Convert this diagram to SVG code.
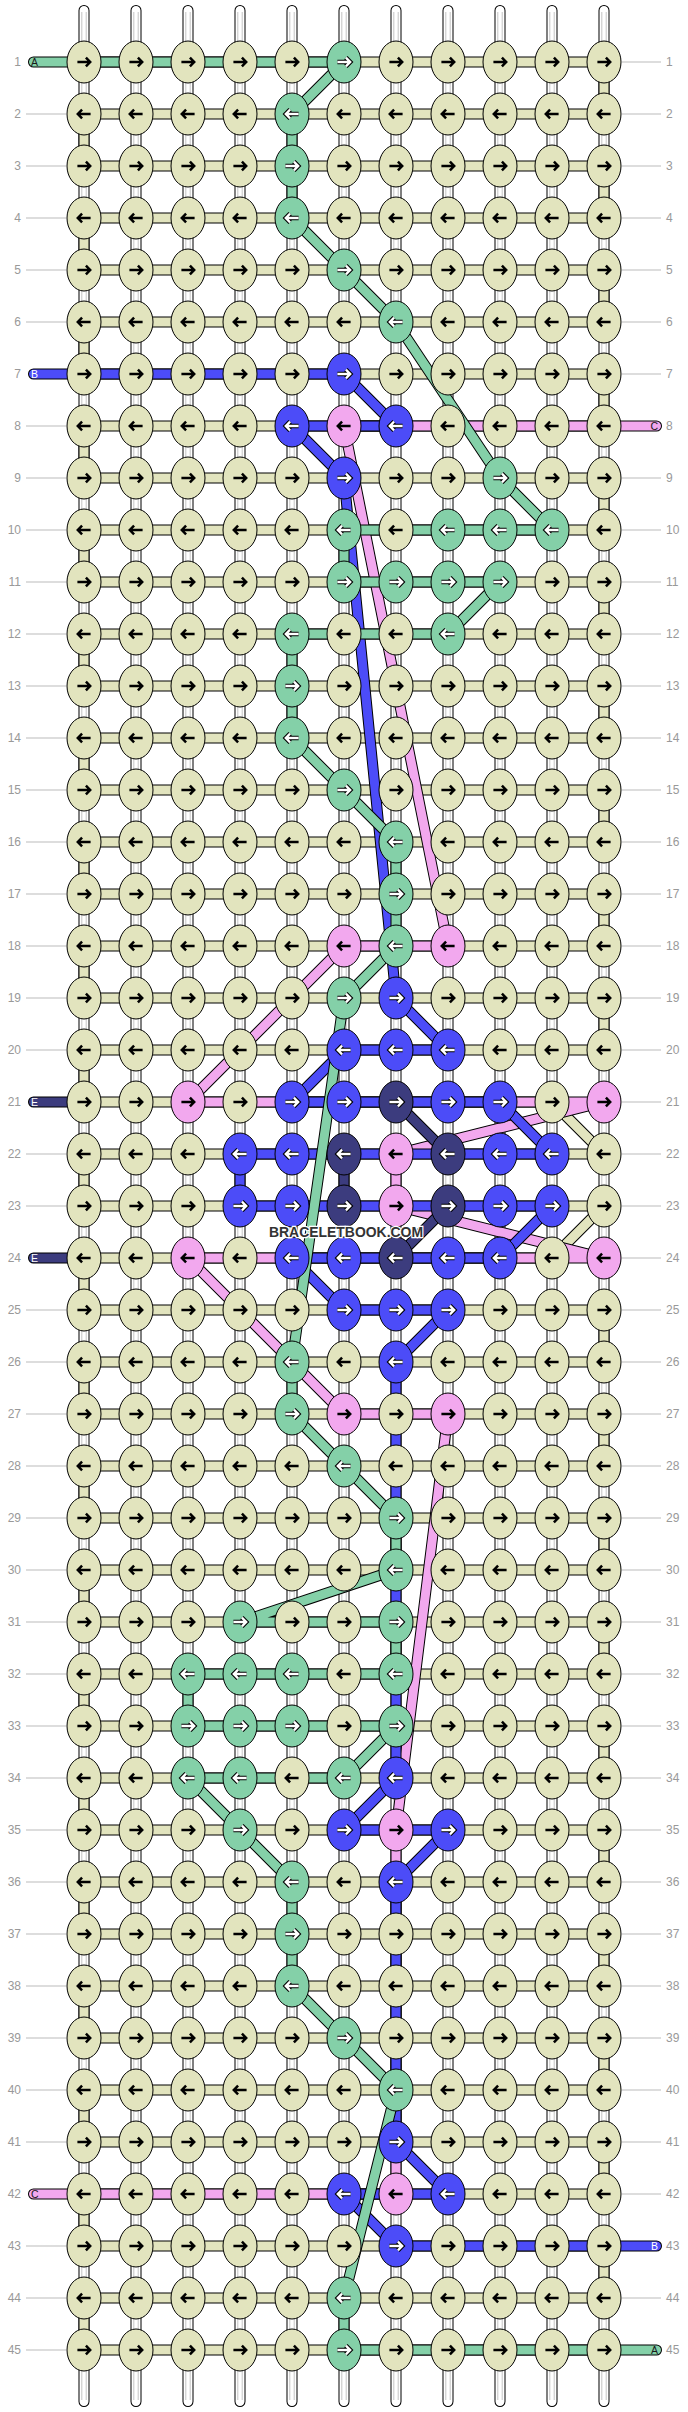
<svg xmlns="http://www.w3.org/2000/svg" xmlns:xlink="http://www.w3.org/1999/xlink" width="688" height="2412" viewBox="0 0 688 2412">
<style>
.o{fill:none;stroke:#000;stroke-width:11;stroke-linecap:round;stroke-linejoin:round}
.f{fill:none;stroke-width:9;stroke-linecap:round;stroke-linejoin:round}
.w{stroke:#fff}
.tn{stroke:#e2e4be}
.pk{stroke:#f2a8ee}
.bl{stroke:#4c4cf8}
.gr{stroke:#84d0a8}
.nv{stroke:#3c3c7e}
.gl{fill:none;stroke:#c4c4c4;stroke-width:1}
.ll{fill:none;stroke:#bbb;stroke-width:1}
.lab{font-family:"Liberation Sans",Arial,sans-serif;font-size:12px;fill:#999}
.ak{fill:none;stroke:#000;stroke-width:2.5}
.ao{fill:none;stroke:#000;stroke-width:4.6}
.aw{fill:none;stroke:#fff;stroke-width:2.4}
.st{font-family:"Liberation Sans",Arial,sans-serif;font-size:10.5px}
.wm{font-family:"Liberation Sans Narrow","Liberation Sans",Arial,sans-serif;font-weight:bold;font-size:15px;fill:#333;stroke:#fff;stroke-width:2.5;paint-order:stroke}
</style>
<defs>
<path id="pW" d="M84,10.5V2401.5M136,10.5V2401.5M188,10.5V2401.5M240,10.5V2401.5M292,10.5V2401.5M344,10.5V2401.5M396,10.5V2401.5M448,10.5V2401.5M500,10.5V2401.5M552,10.5V2401.5M604,10.5V2401.5"/>
<path id="pT" d="M84,62H604V114H84V166H604V218H84V270H604V322H84V374H604V426H84V478H604V530H84V582H604V634H84V686H604V738H84V790H604V842H84V894H604V946H84V998H604V1050H84V1102H552L604,1154H84V1206H604L552,1258H84V1310H604V1362H84V1414H604V1466H84V1518H604V1570H84V1622H604V1674H84V1726H604V1778H84V1830H604V1882H84V1934H604V1986H84V2038H604V2090H84V2142H604V2194H84V2246H604V2298H84V2350H604"/>
<path id="pP" d="M656.5,426H344L448,946H344L188,1102H604L396,1154V1206L604,1258H188L344,1414H448L396,1830V2194H33.5"/>
<path id="pB" d="M33.5,374H344L396,426H292L344,478L396,998L448,1050H344L292,1102H500L552,1154H240V1206H552L500,1258H292L344,1310H448L396,1362V1778L344,1830H448L396,1882V2142L448,2194H344L396,2246H656.5"/>
<path id="pG" d="M33.5,62H344L292,114V218L344,270L396,322L500,478L552,530H344V582H500L448,634H292V738L344,790L396,842V946L344,998L292,1362V1414L344,1466L396,1518V1570L240,1622H396V1674H188V1726H396L344,1778H188L240,1830L292,1882V1986L344,2038L396,2090L344,2298V2350H656.5"/>
<path id="pN" d="M33.5,1102H84M396,1102L448,1154M344,1154V1206M448,1206L396,1258M33.5,1258H84"/>
<path id="aR" d="M-6.6,0H5.8M1.9,-4.4L6.2,0L1.9,4.4"/>
<path id="aL" d="M6.6,0H-5.8M-1.9,-4.4L-6.2,0L-1.9,4.4"/>
<ellipse id="e" rx="17" ry="21" stroke="#000" stroke-width="1"/>
<g id="tR"><use href="#e" fill="#e2e4be"/><use href="#aR" class="ak"/></g>
<g id="tL"><use href="#e" fill="#e2e4be"/><use href="#aL" class="ak"/></g>
<g id="pR"><use href="#e" fill="#f2a8ee"/><use href="#aR" class="ak"/></g>
<g id="pL"><use href="#e" fill="#f2a8ee"/><use href="#aL" class="ak"/></g>
<g id="gR"><use href="#e" fill="#84d0a8"/><use href="#aR" class="ao"/><use href="#aR" class="aw"/></g>
<g id="gL"><use href="#e" fill="#84d0a8"/><use href="#aL" class="ao"/><use href="#aL" class="aw"/></g>
<g id="bR"><use href="#e" fill="#4c4cf8"/><use href="#aR" class="ao"/><use href="#aR" class="aw"/></g>
<g id="bL"><use href="#e" fill="#4c4cf8"/><use href="#aL" class="ao"/><use href="#aL" class="aw"/></g>
<g id="nR"><use href="#e" fill="#3c3c7e"/><use href="#aR" class="ao"/><use href="#aR" class="aw"/></g>
<g id="nL"><use href="#e" fill="#3c3c7e"/><use href="#aL" class="ao"/><use href="#aL" class="aw"/></g>
</defs>
<rect width="688" height="2412" fill="#fff"/>
<g id="labels">
<path class="ll" d="M26,114H66M26,166H66M26,218H66M26,270H66M26,322H66M26,426H66M26,478H66M26,530H66M26,582H66M26,634H66M26,686H66M26,738H66M26,790H66M26,842H66M26,894H66M26,946H66M26,998H66M26,1050H66M26,1154H66M26,1206H66M26,1310H66M26,1362H66M26,1414H66M26,1466H66M26,1518H66M26,1570H66M26,1622H66M26,1674H66M26,1726H66M26,1778H66M26,1830H66M26,1882H66M26,1934H66M26,1986H66M26,2038H66M26,2090H66M26,2142H66M26,2246H66M26,2298H66M26,2350H66M622,62H661M622,114H661M622,166H661M622,218H661M622,270H661M622,322H661M622,374H661M622,478H661M622,530H661M622,582H661M622,634H661M622,686H661M622,738H661M622,790H661M622,842H661M622,894H661M622,946H661M622,998H661M622,1050H661M622,1102H661M622,1154H661M622,1206H661M622,1258H661M622,1310H661M622,1362H661M622,1414H661M622,1466H661M622,1518H661M622,1570H661M622,1622H661M622,1674H661M622,1726H661M622,1778H661M622,1830H661M622,1882H661M622,1934H661M622,1986H661M622,2038H661M622,2090H661M622,2142H661M622,2194H661M622,2298H661"/>
<g class="lab" text-anchor="end">
<text x="21" y="66">1</text><text x="21" y="118">2</text><text x="21" y="170">3</text><text x="21" y="222">4</text><text x="21" y="274">5</text><text x="21" y="326">6</text><text x="21" y="378">7</text><text x="21" y="430">8</text><text x="21" y="482">9</text><text x="21" y="534">10</text><text x="21" y="586">11</text><text x="21" y="638">12</text><text x="21" y="690">13</text><text x="21" y="742">14</text><text x="21" y="794">15</text><text x="21" y="846">16</text><text x="21" y="898">17</text><text x="21" y="950">18</text><text x="21" y="1002">19</text><text x="21" y="1054">20</text><text x="21" y="1106">21</text><text x="21" y="1158">22</text><text x="21" y="1210">23</text><text x="21" y="1262">24</text><text x="21" y="1314">25</text><text x="21" y="1366">26</text><text x="21" y="1418">27</text><text x="21" y="1470">28</text><text x="21" y="1522">29</text><text x="21" y="1574">30</text><text x="21" y="1626">31</text><text x="21" y="1678">32</text><text x="21" y="1730">33</text><text x="21" y="1782">34</text><text x="21" y="1834">35</text><text x="21" y="1886">36</text><text x="21" y="1938">37</text><text x="21" y="1990">38</text><text x="21" y="2042">39</text><text x="21" y="2094">40</text><text x="21" y="2146">41</text><text x="21" y="2198">42</text><text x="21" y="2250">43</text><text x="21" y="2302">44</text><text x="21" y="2354">45</text>
</g>
<g class="lab">
<text x="666" y="66">1</text><text x="666" y="118">2</text><text x="666" y="170">3</text><text x="666" y="222">4</text><text x="666" y="274">5</text><text x="666" y="326">6</text><text x="666" y="378">7</text><text x="666" y="430">8</text><text x="666" y="482">9</text><text x="666" y="534">10</text><text x="666" y="586">11</text><text x="666" y="638">12</text><text x="666" y="690">13</text><text x="666" y="742">14</text><text x="666" y="794">15</text><text x="666" y="846">16</text><text x="666" y="898">17</text><text x="666" y="950">18</text><text x="666" y="1002">19</text><text x="666" y="1054">20</text><text x="666" y="1106">21</text><text x="666" y="1158">22</text><text x="666" y="1210">23</text><text x="666" y="1262">24</text><text x="666" y="1314">25</text><text x="666" y="1366">26</text><text x="666" y="1418">27</text><text x="666" y="1470">28</text><text x="666" y="1522">29</text><text x="666" y="1574">30</text><text x="666" y="1626">31</text><text x="666" y="1678">32</text><text x="666" y="1730">33</text><text x="666" y="1782">34</text><text x="666" y="1834">35</text><text x="666" y="1886">36</text><text x="666" y="1938">37</text><text x="666" y="1990">38</text><text x="666" y="2042">39</text><text x="666" y="2094">40</text><text x="666" y="2146">41</text><text x="666" y="2198">42</text><text x="666" y="2250">43</text><text x="666" y="2302">44</text><text x="666" y="2354">45</text>
</g>
</g>
<g id="connectors">
<use href="#pW" class="o"/><use href="#pW" class="f w"/>
<path class="gl" d="M81.8,12V2400M86.2,12V2400M133.8,12V2400M138.2,12V2400M185.8,12V2400M190.2,12V2400M237.8,12V2400M242.2,12V2400M289.8,12V2400M294.2,12V2400M341.8,12V2400M346.2,12V2400M393.8,12V2400M398.2,12V2400M445.8,12V2400M450.2,12V2400M497.8,12V2400M502.2,12V2400M549.8,12V2400M554.2,12V2400M601.8,12V2400M606.2,12V2400"/>
<use href="#pT" class="o"/><use href="#pT" class="f tn"/>
<use href="#pP" class="o"/><use href="#pP" class="f pk"/>
<use href="#pB" class="o"/><use href="#pB" class="f bl"/>
<use href="#pG" class="o"/><use href="#pG" class="f gr"/>
<use href="#pN" class="o"/><use href="#pN" class="f nv"/>
</g>
<g id="stub-letters" class="st">
<text x="31" y="66" fill="#1a1a1a">A</text>
<text x="31" y="378" fill="#fff">B</text>
<text x="658" y="430" fill="#1a1a1a" text-anchor="end">C</text>
<text x="31" y="1106" fill="#fff">E</text>
<text x="31" y="1262" fill="#fff">E</text>
<text x="31" y="2198" fill="#1a1a1a">C</text>
<text x="658" y="2250" fill="#fff" text-anchor="end">B</text>
<text x="658" y="2354" fill="#1a1a1a" text-anchor="end">A</text>
</g>
<g id="knots">
<g id="row1" transform="translate(0,62)"><use href="#tR" x="84"/><use href="#tR" x="136"/><use href="#tR" x="188"/><use href="#tR" x="240"/><use href="#tR" x="292"/><use href="#gR" x="344"/><use href="#tR" x="396"/><use href="#tR" x="448"/><use href="#tR" x="500"/><use href="#tR" x="552"/><use href="#tR" x="604"/></g>
<g id="row2" transform="translate(0,114)"><use href="#tL" x="84"/><use href="#tL" x="136"/><use href="#tL" x="188"/><use href="#tL" x="240"/><use href="#gL" x="292"/><use href="#tL" x="344"/><use href="#tL" x="396"/><use href="#tL" x="448"/><use href="#tL" x="500"/><use href="#tL" x="552"/><use href="#tL" x="604"/></g>
<g id="row3" transform="translate(0,166)"><use href="#tR" x="84"/><use href="#tR" x="136"/><use href="#tR" x="188"/><use href="#tR" x="240"/><use href="#gR" x="292"/><use href="#tR" x="344"/><use href="#tR" x="396"/><use href="#tR" x="448"/><use href="#tR" x="500"/><use href="#tR" x="552"/><use href="#tR" x="604"/></g>
<g id="row4" transform="translate(0,218)"><use href="#tL" x="84"/><use href="#tL" x="136"/><use href="#tL" x="188"/><use href="#tL" x="240"/><use href="#gL" x="292"/><use href="#tL" x="344"/><use href="#tL" x="396"/><use href="#tL" x="448"/><use href="#tL" x="500"/><use href="#tL" x="552"/><use href="#tL" x="604"/></g>
<g id="row5" transform="translate(0,270)"><use href="#tR" x="84"/><use href="#tR" x="136"/><use href="#tR" x="188"/><use href="#tR" x="240"/><use href="#tR" x="292"/><use href="#gR" x="344"/><use href="#tR" x="396"/><use href="#tR" x="448"/><use href="#tR" x="500"/><use href="#tR" x="552"/><use href="#tR" x="604"/></g>
<g id="row6" transform="translate(0,322)"><use href="#tL" x="84"/><use href="#tL" x="136"/><use href="#tL" x="188"/><use href="#tL" x="240"/><use href="#tL" x="292"/><use href="#tL" x="344"/><use href="#gL" x="396"/><use href="#tL" x="448"/><use href="#tL" x="500"/><use href="#tL" x="552"/><use href="#tL" x="604"/></g>
<g id="row7" transform="translate(0,374)"><use href="#tR" x="84"/><use href="#tR" x="136"/><use href="#tR" x="188"/><use href="#tR" x="240"/><use href="#tR" x="292"/><use href="#bR" x="344"/><use href="#tR" x="396"/><use href="#tR" x="448"/><use href="#tR" x="500"/><use href="#tR" x="552"/><use href="#tR" x="604"/></g>
<g id="row8" transform="translate(0,426)"><use href="#tL" x="84"/><use href="#tL" x="136"/><use href="#tL" x="188"/><use href="#tL" x="240"/><use href="#bL" x="292"/><use href="#pL" x="344"/><use href="#bL" x="396"/><use href="#tL" x="448"/><use href="#tL" x="500"/><use href="#tL" x="552"/><use href="#tL" x="604"/></g>
<g id="row9" transform="translate(0,478)"><use href="#tR" x="84"/><use href="#tR" x="136"/><use href="#tR" x="188"/><use href="#tR" x="240"/><use href="#tR" x="292"/><use href="#bR" x="344"/><use href="#tR" x="396"/><use href="#tR" x="448"/><use href="#gR" x="500"/><use href="#tR" x="552"/><use href="#tR" x="604"/></g>
<g id="row10" transform="translate(0,530)"><use href="#tL" x="84"/><use href="#tL" x="136"/><use href="#tL" x="188"/><use href="#tL" x="240"/><use href="#tL" x="292"/><use href="#gL" x="344"/><use href="#tL" x="396"/><use href="#gL" x="448"/><use href="#gL" x="500"/><use href="#gL" x="552"/><use href="#tL" x="604"/></g>
<g id="row11" transform="translate(0,582)"><use href="#tR" x="84"/><use href="#tR" x="136"/><use href="#tR" x="188"/><use href="#tR" x="240"/><use href="#tR" x="292"/><use href="#gR" x="344"/><use href="#gR" x="396"/><use href="#gR" x="448"/><use href="#gR" x="500"/><use href="#tR" x="552"/><use href="#tR" x="604"/></g>
<g id="row12" transform="translate(0,634)"><use href="#tL" x="84"/><use href="#tL" x="136"/><use href="#tL" x="188"/><use href="#tL" x="240"/><use href="#gL" x="292"/><use href="#tL" x="344"/><use href="#tL" x="396"/><use href="#gL" x="448"/><use href="#tL" x="500"/><use href="#tL" x="552"/><use href="#tL" x="604"/></g>
<g id="row13" transform="translate(0,686)"><use href="#tR" x="84"/><use href="#tR" x="136"/><use href="#tR" x="188"/><use href="#tR" x="240"/><use href="#gR" x="292"/><use href="#tR" x="344"/><use href="#tR" x="396"/><use href="#tR" x="448"/><use href="#tR" x="500"/><use href="#tR" x="552"/><use href="#tR" x="604"/></g>
<g id="row14" transform="translate(0,738)"><use href="#tL" x="84"/><use href="#tL" x="136"/><use href="#tL" x="188"/><use href="#tL" x="240"/><use href="#gL" x="292"/><use href="#tL" x="344"/><use href="#tL" x="396"/><use href="#tL" x="448"/><use href="#tL" x="500"/><use href="#tL" x="552"/><use href="#tL" x="604"/></g>
<g id="row15" transform="translate(0,790)"><use href="#tR" x="84"/><use href="#tR" x="136"/><use href="#tR" x="188"/><use href="#tR" x="240"/><use href="#tR" x="292"/><use href="#gR" x="344"/><use href="#tR" x="396"/><use href="#tR" x="448"/><use href="#tR" x="500"/><use href="#tR" x="552"/><use href="#tR" x="604"/></g>
<g id="row16" transform="translate(0,842)"><use href="#tL" x="84"/><use href="#tL" x="136"/><use href="#tL" x="188"/><use href="#tL" x="240"/><use href="#tL" x="292"/><use href="#tL" x="344"/><use href="#gL" x="396"/><use href="#tL" x="448"/><use href="#tL" x="500"/><use href="#tL" x="552"/><use href="#tL" x="604"/></g>
<g id="row17" transform="translate(0,894)"><use href="#tR" x="84"/><use href="#tR" x="136"/><use href="#tR" x="188"/><use href="#tR" x="240"/><use href="#tR" x="292"/><use href="#tR" x="344"/><use href="#gR" x="396"/><use href="#tR" x="448"/><use href="#tR" x="500"/><use href="#tR" x="552"/><use href="#tR" x="604"/></g>
<g id="row18" transform="translate(0,946)"><use href="#tL" x="84"/><use href="#tL" x="136"/><use href="#tL" x="188"/><use href="#tL" x="240"/><use href="#tL" x="292"/><use href="#pL" x="344"/><use href="#gL" x="396"/><use href="#pL" x="448"/><use href="#tL" x="500"/><use href="#tL" x="552"/><use href="#tL" x="604"/></g>
<g id="row19" transform="translate(0,998)"><use href="#tR" x="84"/><use href="#tR" x="136"/><use href="#tR" x="188"/><use href="#tR" x="240"/><use href="#tR" x="292"/><use href="#gR" x="344"/><use href="#bR" x="396"/><use href="#tR" x="448"/><use href="#tR" x="500"/><use href="#tR" x="552"/><use href="#tR" x="604"/></g>
<g id="row20" transform="translate(0,1050)"><use href="#tL" x="84"/><use href="#tL" x="136"/><use href="#tL" x="188"/><use href="#tL" x="240"/><use href="#tL" x="292"/><use href="#bL" x="344"/><use href="#bL" x="396"/><use href="#bL" x="448"/><use href="#tL" x="500"/><use href="#tL" x="552"/><use href="#tL" x="604"/></g>
<g id="row21" transform="translate(0,1102)"><use href="#tR" x="84"/><use href="#tR" x="136"/><use href="#pR" x="188"/><use href="#tR" x="240"/><use href="#bR" x="292"/><use href="#bR" x="344"/><use href="#nR" x="396"/><use href="#bR" x="448"/><use href="#bR" x="500"/><use href="#tR" x="552"/><use href="#pR" x="604"/></g>
<g id="row22" transform="translate(0,1154)"><use href="#tL" x="84"/><use href="#tL" x="136"/><use href="#tL" x="188"/><use href="#bL" x="240"/><use href="#bL" x="292"/><use href="#nL" x="344"/><use href="#pL" x="396"/><use href="#nL" x="448"/><use href="#bL" x="500"/><use href="#bL" x="552"/><use href="#tL" x="604"/></g>
<g id="row23" transform="translate(0,1206)"><use href="#tR" x="84"/><use href="#tR" x="136"/><use href="#tR" x="188"/><use href="#bR" x="240"/><use href="#bR" x="292"/><use href="#nR" x="344"/><use href="#pR" x="396"/><use href="#nR" x="448"/><use href="#bR" x="500"/><use href="#bR" x="552"/><use href="#tR" x="604"/></g>
<g id="row24" transform="translate(0,1258)"><use href="#tL" x="84"/><use href="#tL" x="136"/><use href="#pL" x="188"/><use href="#tL" x="240"/><use href="#bL" x="292"/><use href="#bL" x="344"/><use href="#nL" x="396"/><use href="#bL" x="448"/><use href="#bL" x="500"/><use href="#tL" x="552"/><use href="#pL" x="604"/></g>
<g id="row25" transform="translate(0,1310)"><use href="#tR" x="84"/><use href="#tR" x="136"/><use href="#tR" x="188"/><use href="#tR" x="240"/><use href="#tR" x="292"/><use href="#bR" x="344"/><use href="#bR" x="396"/><use href="#bR" x="448"/><use href="#tR" x="500"/><use href="#tR" x="552"/><use href="#tR" x="604"/></g>
<g id="row26" transform="translate(0,1362)"><use href="#tL" x="84"/><use href="#tL" x="136"/><use href="#tL" x="188"/><use href="#tL" x="240"/><use href="#gL" x="292"/><use href="#tL" x="344"/><use href="#bL" x="396"/><use href="#tL" x="448"/><use href="#tL" x="500"/><use href="#tL" x="552"/><use href="#tL" x="604"/></g>
<g id="row27" transform="translate(0,1414)"><use href="#tR" x="84"/><use href="#tR" x="136"/><use href="#tR" x="188"/><use href="#tR" x="240"/><use href="#gR" x="292"/><use href="#pR" x="344"/><use href="#tR" x="396"/><use href="#pR" x="448"/><use href="#tR" x="500"/><use href="#tR" x="552"/><use href="#tR" x="604"/></g>
<g id="row28" transform="translate(0,1466)"><use href="#tL" x="84"/><use href="#tL" x="136"/><use href="#tL" x="188"/><use href="#tL" x="240"/><use href="#tL" x="292"/><use href="#gL" x="344"/><use href="#tL" x="396"/><use href="#tL" x="448"/><use href="#tL" x="500"/><use href="#tL" x="552"/><use href="#tL" x="604"/></g>
<g id="row29" transform="translate(0,1518)"><use href="#tR" x="84"/><use href="#tR" x="136"/><use href="#tR" x="188"/><use href="#tR" x="240"/><use href="#tR" x="292"/><use href="#tR" x="344"/><use href="#gR" x="396"/><use href="#tR" x="448"/><use href="#tR" x="500"/><use href="#tR" x="552"/><use href="#tR" x="604"/></g>
<g id="row30" transform="translate(0,1570)"><use href="#tL" x="84"/><use href="#tL" x="136"/><use href="#tL" x="188"/><use href="#tL" x="240"/><use href="#tL" x="292"/><use href="#tL" x="344"/><use href="#gL" x="396"/><use href="#tL" x="448"/><use href="#tL" x="500"/><use href="#tL" x="552"/><use href="#tL" x="604"/></g>
<g id="row31" transform="translate(0,1622)"><use href="#tR" x="84"/><use href="#tR" x="136"/><use href="#tR" x="188"/><use href="#gR" x="240"/><use href="#tR" x="292"/><use href="#tR" x="344"/><use href="#gR" x="396"/><use href="#tR" x="448"/><use href="#tR" x="500"/><use href="#tR" x="552"/><use href="#tR" x="604"/></g>
<g id="row32" transform="translate(0,1674)"><use href="#tL" x="84"/><use href="#tL" x="136"/><use href="#gL" x="188"/><use href="#gL" x="240"/><use href="#gL" x="292"/><use href="#tL" x="344"/><use href="#gL" x="396"/><use href="#tL" x="448"/><use href="#tL" x="500"/><use href="#tL" x="552"/><use href="#tL" x="604"/></g>
<g id="row33" transform="translate(0,1726)"><use href="#tR" x="84"/><use href="#tR" x="136"/><use href="#gR" x="188"/><use href="#gR" x="240"/><use href="#gR" x="292"/><use href="#tR" x="344"/><use href="#gR" x="396"/><use href="#tR" x="448"/><use href="#tR" x="500"/><use href="#tR" x="552"/><use href="#tR" x="604"/></g>
<g id="row34" transform="translate(0,1778)"><use href="#tL" x="84"/><use href="#tL" x="136"/><use href="#gL" x="188"/><use href="#gL" x="240"/><use href="#tL" x="292"/><use href="#gL" x="344"/><use href="#bL" x="396"/><use href="#tL" x="448"/><use href="#tL" x="500"/><use href="#tL" x="552"/><use href="#tL" x="604"/></g>
<g id="row35" transform="translate(0,1830)"><use href="#tR" x="84"/><use href="#tR" x="136"/><use href="#tR" x="188"/><use href="#gR" x="240"/><use href="#tR" x="292"/><use href="#bR" x="344"/><use href="#pR" x="396"/><use href="#bR" x="448"/><use href="#tR" x="500"/><use href="#tR" x="552"/><use href="#tR" x="604"/></g>
<g id="row36" transform="translate(0,1882)"><use href="#tL" x="84"/><use href="#tL" x="136"/><use href="#tL" x="188"/><use href="#tL" x="240"/><use href="#gL" x="292"/><use href="#tL" x="344"/><use href="#bL" x="396"/><use href="#tL" x="448"/><use href="#tL" x="500"/><use href="#tL" x="552"/><use href="#tL" x="604"/></g>
<g id="row37" transform="translate(0,1934)"><use href="#tR" x="84"/><use href="#tR" x="136"/><use href="#tR" x="188"/><use href="#tR" x="240"/><use href="#gR" x="292"/><use href="#tR" x="344"/><use href="#tR" x="396"/><use href="#tR" x="448"/><use href="#tR" x="500"/><use href="#tR" x="552"/><use href="#tR" x="604"/></g>
<g id="row38" transform="translate(0,1986)"><use href="#tL" x="84"/><use href="#tL" x="136"/><use href="#tL" x="188"/><use href="#tL" x="240"/><use href="#gL" x="292"/><use href="#tL" x="344"/><use href="#tL" x="396"/><use href="#tL" x="448"/><use href="#tL" x="500"/><use href="#tL" x="552"/><use href="#tL" x="604"/></g>
<g id="row39" transform="translate(0,2038)"><use href="#tR" x="84"/><use href="#tR" x="136"/><use href="#tR" x="188"/><use href="#tR" x="240"/><use href="#tR" x="292"/><use href="#gR" x="344"/><use href="#tR" x="396"/><use href="#tR" x="448"/><use href="#tR" x="500"/><use href="#tR" x="552"/><use href="#tR" x="604"/></g>
<g id="row40" transform="translate(0,2090)"><use href="#tL" x="84"/><use href="#tL" x="136"/><use href="#tL" x="188"/><use href="#tL" x="240"/><use href="#tL" x="292"/><use href="#tL" x="344"/><use href="#gL" x="396"/><use href="#tL" x="448"/><use href="#tL" x="500"/><use href="#tL" x="552"/><use href="#tL" x="604"/></g>
<g id="row41" transform="translate(0,2142)"><use href="#tR" x="84"/><use href="#tR" x="136"/><use href="#tR" x="188"/><use href="#tR" x="240"/><use href="#tR" x="292"/><use href="#tR" x="344"/><use href="#bR" x="396"/><use href="#tR" x="448"/><use href="#tR" x="500"/><use href="#tR" x="552"/><use href="#tR" x="604"/></g>
<g id="row42" transform="translate(0,2194)"><use href="#tL" x="84"/><use href="#tL" x="136"/><use href="#tL" x="188"/><use href="#tL" x="240"/><use href="#tL" x="292"/><use href="#bL" x="344"/><use href="#pL" x="396"/><use href="#bL" x="448"/><use href="#tL" x="500"/><use href="#tL" x="552"/><use href="#tL" x="604"/></g>
<g id="row43" transform="translate(0,2246)"><use href="#tR" x="84"/><use href="#tR" x="136"/><use href="#tR" x="188"/><use href="#tR" x="240"/><use href="#tR" x="292"/><use href="#tR" x="344"/><use href="#bR" x="396"/><use href="#tR" x="448"/><use href="#tR" x="500"/><use href="#tR" x="552"/><use href="#tR" x="604"/></g>
<g id="row44" transform="translate(0,2298)"><use href="#tL" x="84"/><use href="#tL" x="136"/><use href="#tL" x="188"/><use href="#tL" x="240"/><use href="#tL" x="292"/><use href="#gL" x="344"/><use href="#tL" x="396"/><use href="#tL" x="448"/><use href="#tL" x="500"/><use href="#tL" x="552"/><use href="#tL" x="604"/></g>
<g id="row45" transform="translate(0,2350)"><use href="#tR" x="84"/><use href="#tR" x="136"/><use href="#tR" x="188"/><use href="#tR" x="240"/><use href="#tR" x="292"/><use href="#gR" x="344"/><use href="#tR" x="396"/><use href="#tR" x="448"/><use href="#tR" x="500"/><use href="#tR" x="552"/><use href="#tR" x="604"/></g>
</g>
<text id="watermark" class="wm" x="346" y="1237" text-anchor="middle" textLength="154" lengthAdjust="spacingAndGlyphs">BRACELETBOOK.COM</text>
</svg>
